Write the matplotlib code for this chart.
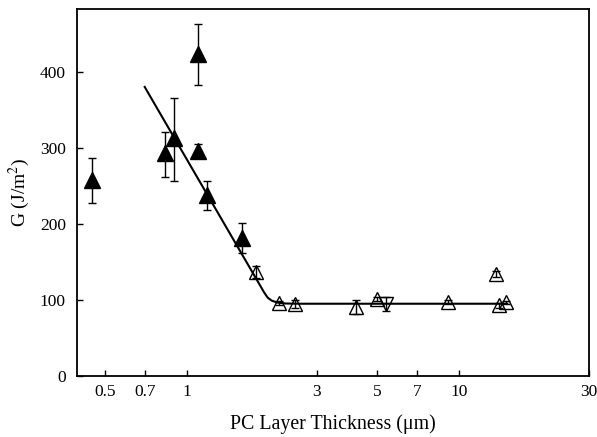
import matplotlib
matplotlib.use("Agg")
import matplotlib.pyplot as plt
from matplotlib.ticker import FixedLocator, FixedFormatter, NullLocator

plt.rcParams['font.family'] = ['Liberation Serif', 'DejaVu Serif']
plt.rcParams['mathtext.fontset'] = 'stix'

# Filled triangles (with error bars)
filled_x = [0.45, 0.83, 0.90, 1.10, 1.10, 1.19, 1.59]
filled_y = [258, 293, 313, 423, 296, 238, 181]
filled_lo = [31, 32, 57, 41, 9, 20, 19]
filled_hi = [29, 28, 53, 40, 9, 19, 20]

# Open triangles (pointing up)
open_x = [1.79, 2.18, 2.49, 4.18, 4.99, 9.12, 13.6, 14.0, 14.8]
open_y = [137, 96, 95, 91, 101, 97, 134, 93, 97]
open_err = [8, 3, 5, 9, 3, 3, 4, 3, 2]

# Open triangle (pointing down)
down_x = [5.39]
down_y = [95]
down_err = [9]

# Fit line
fit_x = [0.70, 1.85, 1.92, 1.98, 2.05, 2.15, 2.30, 2.6, 15.0]
fit_y = [380, 120, 110, 103, 99, 96.5, 95.3, 95, 95]

xticks = [0.5, 0.7, 1, 3, 5, 7, 10, 30]
xticklabels = ['0.5', '0.7', '1', '3', '5', '7', '10', '30']
yticks = [0, 100, 200, 300, 400]

fig = plt.figure(figsize=(5.97, 4.37), dpi=100)
ax = fig.add_axes([0.129, 0.1396, 0.858, 0.839])

ax.plot(fit_x, fit_y, color='black', lw=1.5, zorder=2)

ax.errorbar(filled_x, filled_y, yerr=[filled_lo, filled_hi], fmt='^', color='black',
            ms=11, mfc='black', mec='black', ecolor='black', elinewidth=1.0,
            capsize=2.8, capthick=1.0, zorder=3)
ax.errorbar(open_x, open_y, yerr=open_err, fmt='^', color='black',
            ms=10, mfc='none', mec='black', mew=1.0, ecolor='black', elinewidth=1.0,
            capsize=2.8, capthick=1.0, zorder=3)
ax.errorbar(down_x, down_y, yerr=down_err, fmt='v', color='black',
            ms=10, mfc='none', mec='black', mew=1.0, ecolor='black', elinewidth=1.0,
            capsize=2.8, capthick=1.0, zorder=3)

ax.set_xscale('log')
ax.set_xlim(0.395, 30)
ax.set_ylim(0, 482)
ax.xaxis.set_major_locator(FixedLocator(xticks))
ax.xaxis.set_major_formatter(FixedFormatter(xticklabels))
ax.xaxis.set_minor_locator(NullLocator())
ax.set_yticks(yticks)

ax.tick_params(direction='in', length=4, width=1.0, labelsize=12.5)
ax.tick_params(axis='x', pad=6)
ax.tick_params(axis='y', pad=8)
for s in ax.spines.values():
    s.set_linewidth(1.3)

ax.set_xlabel('PC Layer Thickness (\u03bcm)', fontsize=14.3, labelpad=10)
ax.set_ylabel('G (J/m$^2$)', fontsize=14, labelpad=6)

fig.savefig('out.png', dpi=100)
